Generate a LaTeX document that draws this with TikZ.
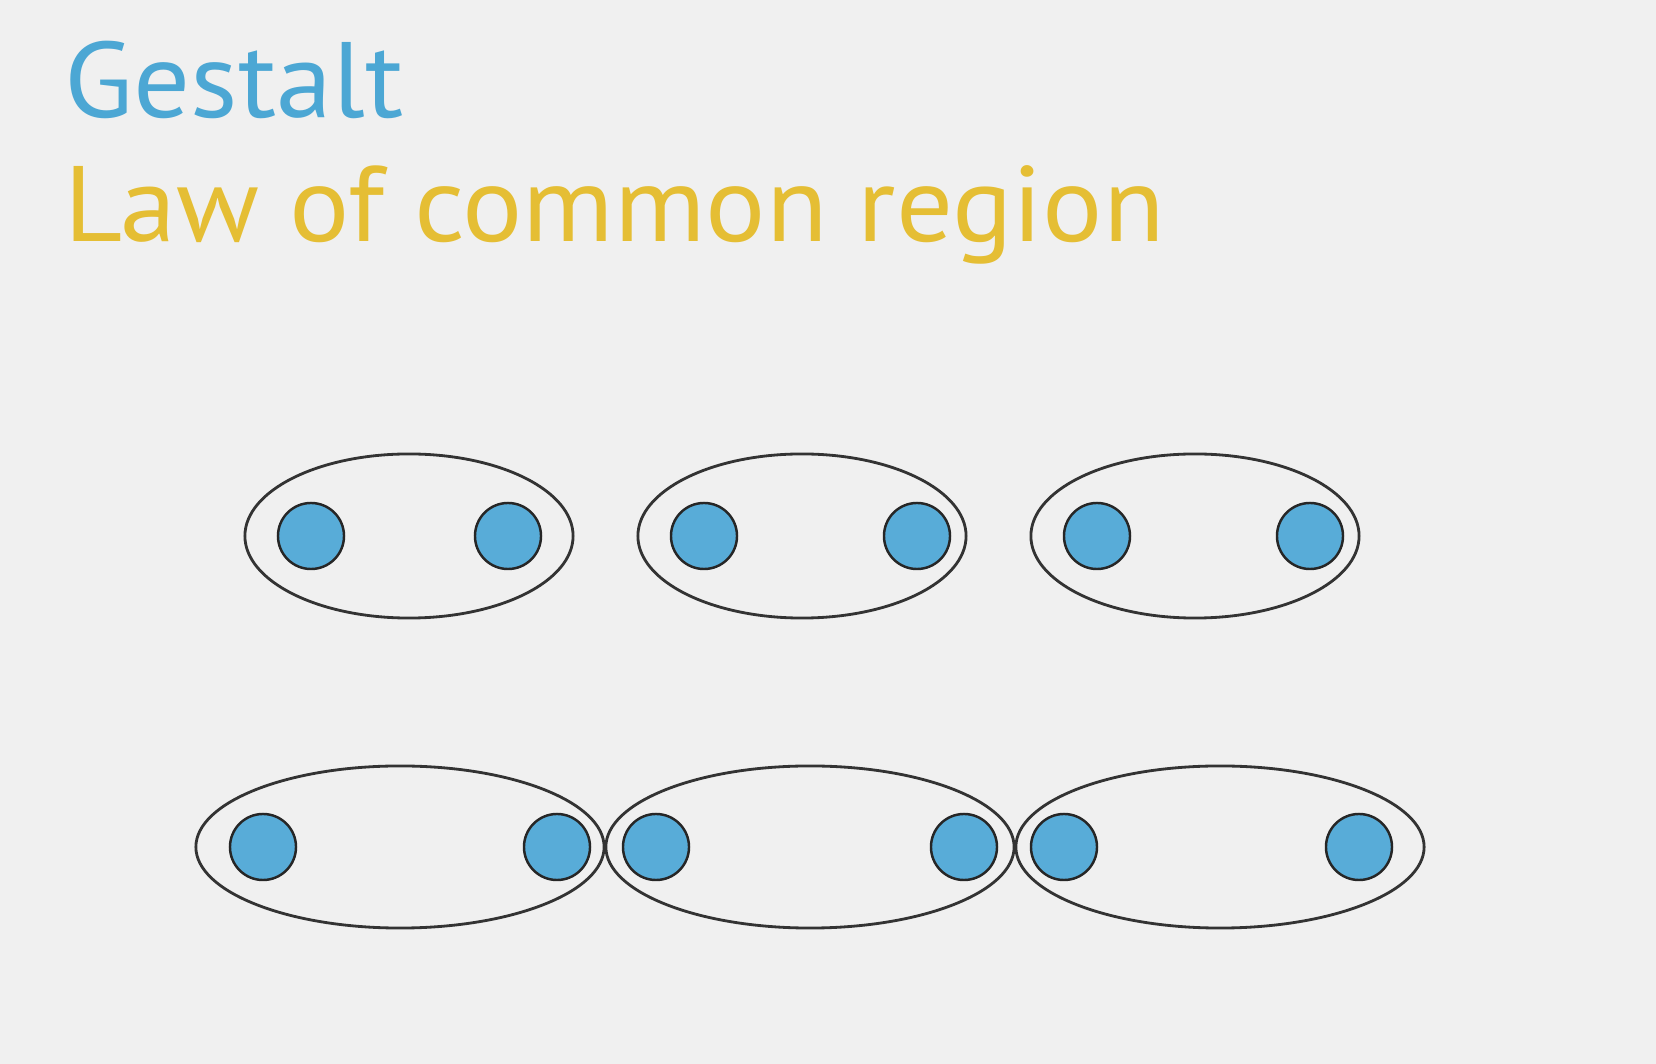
\documentclass[tikz,border=0pt]{standalone}
\usepackage{fontspec}
\setmainfont[FakeStretch=1.05]{PT Sans}
\usetikzlibrary{shapes.geometric}

\definecolor{slidebg}{RGB}{240,240,240}
\definecolor{titleblue}{RGB}{76,167,212}
\definecolor{titleyellow}{RGB}{229,190,52}
\definecolor{dotblue}{RGB}{88,172,216}

\begin{document}
\begin{tikzpicture}[x=0.01cm,y=-0.01cm,
    heading/.style={anchor=base west,inner sep=0pt,font=\fontsize{30.5}{36}\selectfont},
    region/.style={ellipse,draw=black!80,line width=0.8pt,inner sep=0pt},
    dot/.style={circle,draw=black!85,line width=0.7pt,fill=dotblue,
        minimum size=0.66cm,inner sep=0pt}]
        \fill[slidebg] (0,0) rectangle (1656,1064);

        \node[heading,text=titleblue] (G) at (64,118) {Gestalt};
        \node[heading,text=titleyellow] (L) at (64,242) {Law of common region};

        % top row
        \foreach \i/\x/\a/\b in {1/409/311/508, 2/802/704/917, 3/1195/1097/1310}{
            \node[region,minimum width=3.28cm,minimum height=1.64cm] (R\i) at (\x,536) {};
            \node[dot] (R\i-a) at (\a,536) {};
            \node[dot] (R\i-b) at (\b,536) {};
        }

        % bottom row
        \foreach \i/\x/\a/\b in {4/400/263/557, 5/810/656/964, 6/1220/1064/1359}{
            \node[region,minimum width=4.08cm,minimum height=1.62cm] (R\i) at (\x,847) {};
            \node[dot] (R\i-a) at (\a,847) {};
            \node[dot] (R\i-b) at (\b,847) {};
        }
    \end{tikzpicture}
\end{document}
